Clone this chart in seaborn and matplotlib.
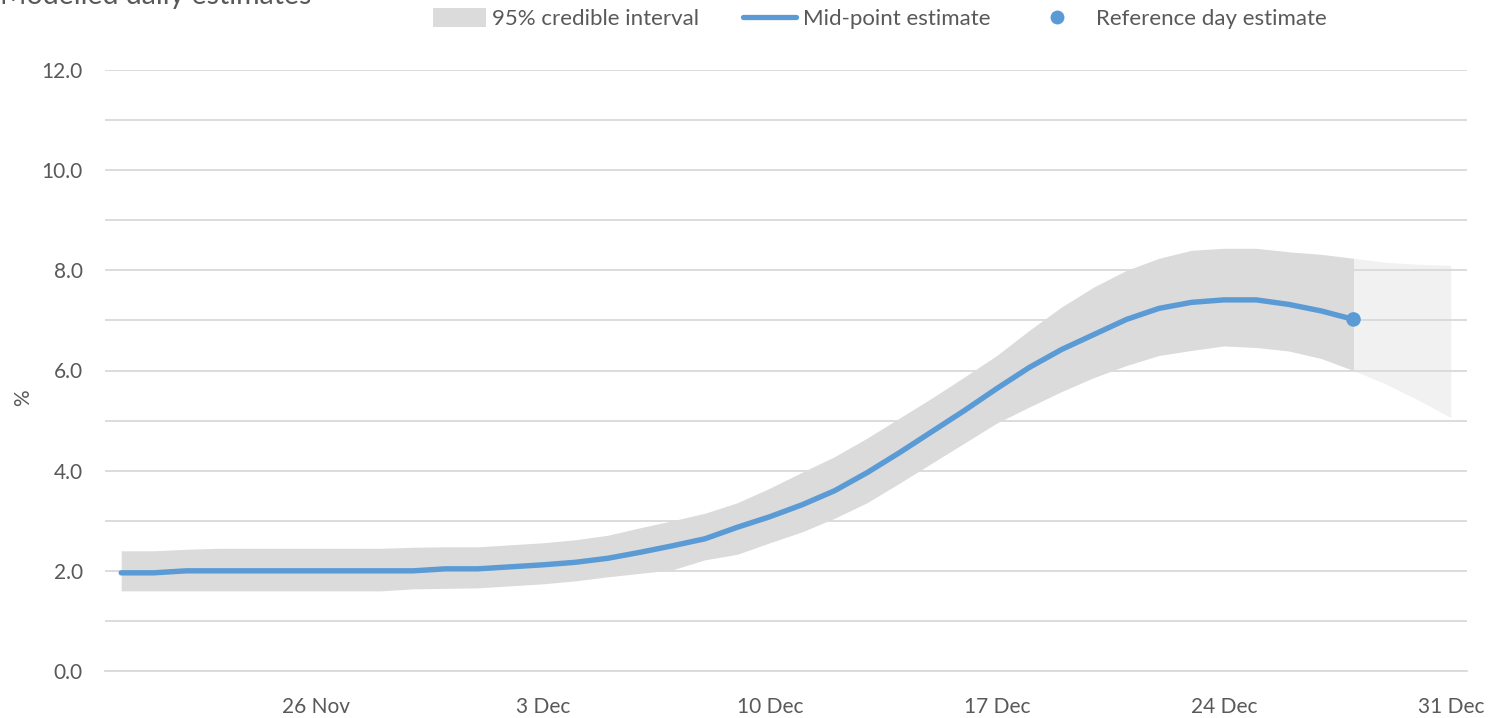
import numpy as np
import pandas as pd
import matplotlib
matplotlib.use("Agg")
import matplotlib.pyplot as plt
import matplotlib.dates as mdates
from matplotlib.patches import Patch
from matplotlib.lines import Line2D
import seaborn as sns

sns.set_style("white")
plt.rcParams["font.family"] = ["Lato", "DejaVu Sans"]

# daily dates shown on the axis (20 Nov - 31 Dec)
dates = pd.date_range("2021-11-20", "2021-12-31", freq="D")

# modelled values up to the reference day (28 Dec)
mid = [1.96, 1.96, 2.0, 2.0, 2.0, 2.0, 2.0, 2.0, 2.0, 2.0,
       2.04, 2.04, 2.08, 2.12, 2.17, 2.25, 2.37, 2.5, 2.64, 2.87,
       3.08, 3.32, 3.6, 3.96, 4.36, 4.78, 5.2, 5.64, 6.06, 6.42,
       6.72, 7.02, 7.24, 7.36, 7.41, 7.41, 7.32, 7.19, 7.02]
upper = [2.40, 2.40, 2.43, 2.45, 2.45, 2.45, 2.45, 2.45, 2.45, 2.47,
         2.48, 2.48, 2.52, 2.56, 2.62, 2.71, 2.86, 3.0, 3.15, 3.36,
         3.65, 3.97, 4.28, 4.65, 5.05, 5.45, 5.87, 6.3, 6.8, 7.27,
         7.67, 8.0, 8.24, 8.4, 8.44, 8.44, 8.37, 8.32, 8.24]
lower = [1.6, 1.6, 1.6, 1.6, 1.6, 1.6, 1.6, 1.6, 1.6, 1.64,
         1.65, 1.66, 1.7, 1.74, 1.8, 1.88, 1.95, 2.02, 2.22, 2.33,
         2.56, 2.78, 3.05, 3.36, 3.75, 4.15, 4.55, 4.95, 5.27, 5.58,
         5.86, 6.1, 6.3, 6.4, 6.49, 6.46, 6.39, 6.24, 6.0]

# interval after the reference day (28 Dec - 31 Dec)
upper_after = [8.24, 8.16, 8.12, 8.1]
lower_after = [6.0, 5.73, 5.41, 5.06]

n = len(mid)
df = pd.DataFrame({"date": dates[:n], "mid": mid, "upper": upper, "lower": lower})
after = pd.DataFrame({"date": dates[n - 1:], "upper": upper_after, "lower": lower_after})

blue = "#5b9bd5"
band = "#dcdbdc"
band_light = "#f1f1f1"
grid_c = "#d9d9d9"
text_c = "#595959"
fs = 15

fig = plt.figure(figsize=(14.91, 7.18), dpi=100)
ax = fig.add_axes([105 / 1491, 1 - 671 / 718, 1362 / 1491, 601 / 718])

ax.fill_between(after["date"], after["lower"], after["upper"], color=band_light,
                linewidth=0, zorder=0.3)
ax.fill_between(df["date"], df["lower"], df["upper"], color=band, linewidth=0, zorder=1)
sns.lineplot(data=df, x="date", y="mid", ax=ax, color=blue, linewidth=3.9,
             solid_capstyle="round", zorder=3)
sns.scatterplot(x=df["date"].iloc[-1:], y=df["mid"].iloc[-1:], ax=ax, color=blue,
                s=110, edgecolor="none", zorder=4)

half = pd.Timedelta(hours=12)
ax.set_xlim(dates[0] - half, dates[-1] + half)
ax.set_ylim(0, 12)

# y axis
ax.set_yticks(np.arange(0, 12.1, 2))
ax.set_yticks(np.arange(1, 12, 2), minor=True)
ax.yaxis.set_major_formatter(matplotlib.ticker.FormatStrFormatter("%.1f"))
ax.grid(axis="y", which="both", color=grid_c, linewidth=1.3)
ax.set_axisbelow(True)
ax.tick_params(axis="y", which="both", length=0, pad=16, labelsize=fs, labelcolor=text_c)

# x axis: labels weekly, small ticks between days
ax.set_xticks(dates[6::7])
ax.xaxis.set_major_formatter(mdates.DateFormatter("%-d %b"))
bounds = list(dates - half) + [dates[-1] + half]
ax.xaxis.set_minor_locator(matplotlib.ticker.FixedLocator(mdates.date2num(bounds)))
ax.tick_params(axis="x", which="major", length=0, pad=19, labelsize=fs, labelcolor=text_c)
ax.tick_params(axis="x", which="minor", length=5.5, width=1.3, color=grid_c, direction="out")

for s in ["top", "right", "left"]:
    ax.spines[s].set_visible(False)
ax.spines["bottom"].set_color(grid_c)
ax.spines["bottom"].set_linewidth(1.3)

ax.set_xlabel("")
ax.set_ylabel("%", fontsize=fs, color=text_c)
ax.yaxis.set_label_coords(-0.053, 0.454)

fig.text(0.0, 1 - 4 / 718, "Modelled daily estimates", fontsize=20.5, color=text_c,
         va="baseline", ha="left")

# legend entries placed one by one, like the original layout
handles = [Patch(facecolor=band, edgecolor="none"),
           Line2D([], [], color=blue, linewidth=3.8),
           Line2D([], [], color=blue, marker="o", linestyle="none", markersize=9)]
labels = ["95% credible interval", "Mid-point estimate", "Reference day estimate"]
starts = [433, 743, 1030]
pads = [0.25, 0.3, 0.55]
for h, lab, x0, p in zip(handles, labels, starts, pads):
    fig.legend([h], [lab], loc="center left", bbox_to_anchor=(x0 / 1491, 0.974),
               frameon=False, fontsize=16, labelcolor=text_c, handlelength=2.4,
               handletextpad=p, handleheight=0.9, borderpad=0, borderaxespad=0)

fig.savefig("out.png", dpi=100)
